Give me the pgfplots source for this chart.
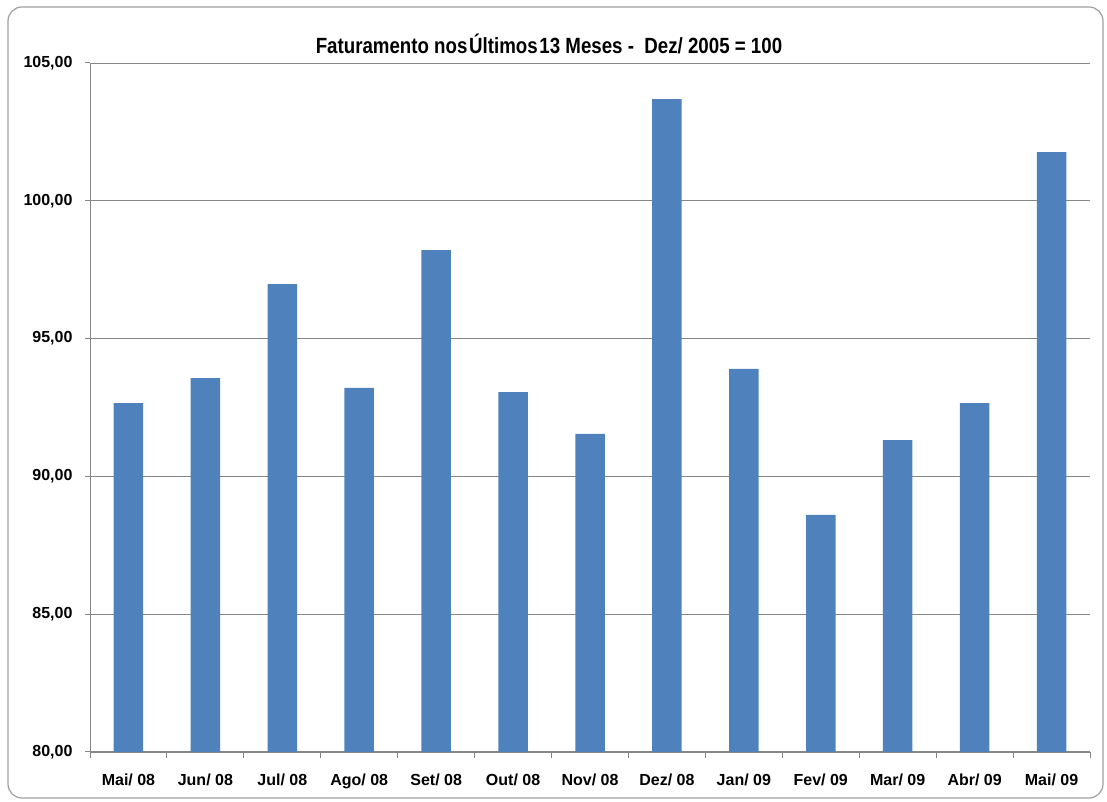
\documentclass[border=0pt]{standalone}
\usepackage{fontspec}
\setmainfont{Liberation Sans}
\usepackage{graphicx}
\usepackage{pgfplots}
\pgfplotsset{compat=1.18}
\definecolor{barblue}{RGB}{79,129,189}
\definecolor{gridgray}{RGB}{134,134,134}
\definecolor{framegray}{RGB}{160,160,160}
\begin{document}
\begin{tikzpicture}
\path[use as bounding box] (0pt,0pt) rectangle (1107pt,802pt);
\draw[framegray, line width=1.2pt, rounded corners=14pt] (8pt,4pt) rectangle (1103pt,795pt);
\node at (549pt,758pt) {\scalebox{0.85}[1]{\fontsize{22}{26}\selectfont\bfseries Faturamento nos\kern2ptÚltimos\kern2pt13 Meses - \ Dez/ 2005 = 100}};
\begin{axis}[
  at={(90pt,50pt)}, anchor=south west,
  scale only axis, width=1000pt, height=689pt,
  ymin=80, ymax=105, ytick={80,85,...,105},
  xmin=-0.5, xmax=12.5,
  xtick={0,...,12},
  xticklabels={Mai/ 08,Jun/ 08,Jul/ 08,Ago/ 08,Set/ 08,Out/ 08,Nov/ 08,Dez/ 08,Jan/ 09,Fev/ 09,Mar/ 09,Abr/ 09,Mai/ 09},
  minor xtick={-0.5,0.5,...,12.5},
  axis x line=bottom, axis y line=left,
  axis line style={-, gridgray, line width=1pt},
  ymajorgrids, grid style={gridgray, line width=0.8pt},
  tick align=outside,
  major x tick style={draw=none},
  minor x tick style={gridgray, line width=1pt},
  minor tick length=6pt,
  major y tick style={gridgray, line width=1pt},
  major tick length=5pt,
  tick label style={font=\fontsize{16}{18}\selectfont\bfseries},
  /pgf/number format/assume math mode=true,
  y tick label style={xshift=-9pt},
  x tick label style={yshift=-13pt},
  y tick label style={/pgf/number format/.cd, fixed, fixed zerofill, precision=2, use comma},
]
\addplot[ybar, fill=barblue, draw=none, bar width=29.5pt] coordinates {
(0,92.66) (1,93.57) (2,96.98) (3,93.21) (4,98.21) (5,93.06) (6,91.54) (7,103.69) (8,93.90) (9,88.60) (10,91.32) (11,92.66) (12,101.77)
};
\end{axis}
\end{tikzpicture}
\end{document}
